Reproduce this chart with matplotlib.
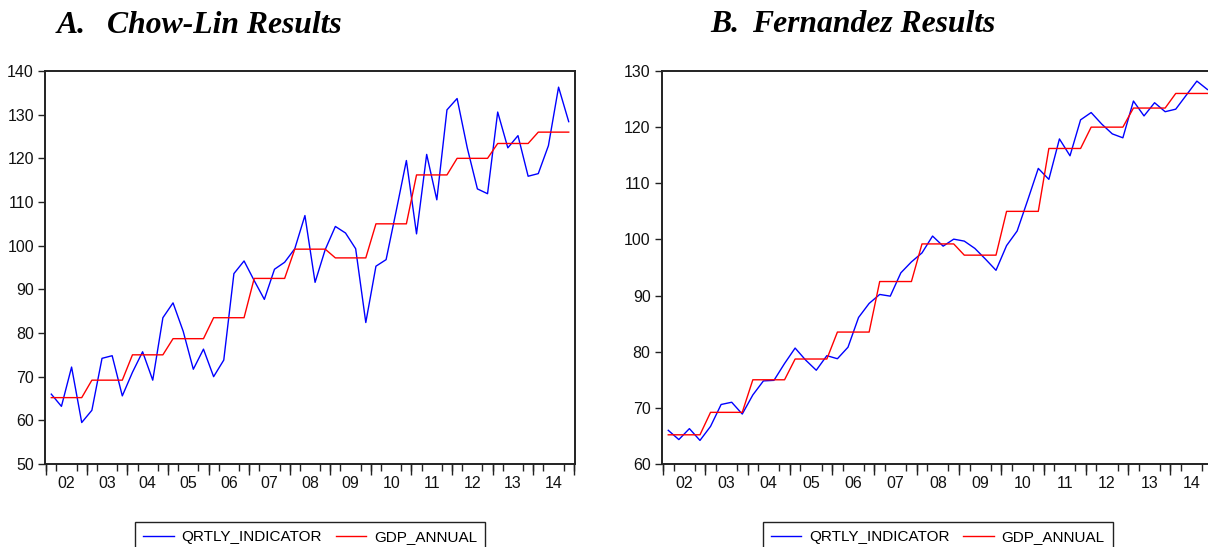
import matplotlib
matplotlib.use("Agg")
import matplotlib.pyplot as plt
import numpy as np

# ---- data ----
years = ["02", "03", "04", "05", "06", "07", "08", "09", "10", "11", "12", "13", "14"]
gdp_annual = [65.2, 69.2, 75.0, 78.7, 83.5, 92.5, 99.2, 97.2, 105.0, 116.2, 120.0, 123.4, 126.0]

chowlin_qrtly = [66.0, 63.2, 72.2, 59.5, 62.3, 74.2, 74.8, 65.6,
                 71.0, 75.7, 69.2, 83.5, 86.9, 80.4, 71.7, 76.3,
                 70.0, 73.8, 93.6, 96.5, 92.0, 87.7, 94.6, 96.2,
                 99.3, 106.9, 91.6, 99.1, 104.4, 102.9, 99.3, 82.4,
                 95.3, 96.8, 108.0, 119.5, 102.7, 120.9, 110.5, 131.1,
                 133.7, 122.4, 113.0, 111.9, 130.6, 122.4, 125.2, 115.9,
                 116.5, 122.9, 136.3, 128.4]

fernandez_qrtly = [66.0, 64.35, 66.3, 64.2, 66.7, 70.6, 71.0, 68.9,
                   72.3, 74.8, 74.9, 77.9, 80.65, 78.5, 76.7, 79.3,
                   78.75, 80.8, 86.1, 88.6, 90.2, 89.9, 94.05, 96.0,
                   97.6, 100.6, 98.8, 100.05, 99.7, 98.4, 96.5, 94.5,
                   98.9, 101.5, 107.0, 112.65, 110.7, 117.9, 114.9, 121.3,
                   122.6, 120.55, 118.8, 118.1, 124.65, 122.0, 124.35, 122.75,
                   123.2, 125.7, 128.2, 126.7]

legend_labels = ["QRTLY_INDICATOR", "GDP_ANNUAL"]

plt.rcParams['font.family'] = ['Liberation Sans', 'DejaVu Sans']

W, H = 1208, 547
fig = plt.figure(figsize=(W / 100, H / 100), dpi=100)

def px_axes(x0, y0, x1, y1):
    return fig.add_axes([x0 / W, 1 - y1 / H, (x1 - x0) / W, (y1 - y0) / H])

def draw_panel(ax, qrtly, ylim, yticks):
    n = len(qrtly)
    q = np.arange(n)
    gdp_q = np.repeat(gdp_annual, 4)[:n]
    l1, = ax.plot(q, qrtly, color='#0000ff', lw=1.0)
    l2, = ax.plot(q, gdp_q, color='#ff0000', lw=1.0)
    ax.set_xlim(-0.62, n - 1 + 0.62)
    ax.set_ylim(*ylim)
    ax.set_yticks(yticks)
    ax.tick_params(axis='y', direction='out', length=5, width=1.0, labelsize=11.5,
                   color='#222222', labelcolor='#111111', pad=3)
    # year labels at year centres
    centres = [4 * k + 1.5 for k in range(len(years))]
    ax.set_xticks(centres)
    ax.set_xticklabels(years)
    ax.tick_params(axis='x', which='major', length=0, labelsize=11.5,
                   labelcolor='#111111', pad=9)
    # quarter ticks
    ax.set_xticks([i + 0.5 for i in range(-1, n)], minor=True)
    ax.tick_params(axis='x', which='minor', direction='out', length=5, width=1.0,
                   color='#222222')
    # year boundary ticks
    sec = ax.secondary_xaxis('bottom')
    sec.set_xticks([4 * k - 0.5 for k in range(len(years) + 1)])
    sec.tick_params(axis='x', direction='out', length=8, width=1.0, color='#222222',
                    labelbottom=False)
    sec.spines['bottom'].set_visible(False)
    for s in ax.spines.values():
        s.set_linewidth(1.4)
        s.set_color('#222222')
    return l1, l2

legend_kw = dict(loc='upper center', ncol=2, fontsize=11,
                 frameon=True, fancybox=False, edgecolor='#222222', framealpha=1,
                 handlelength=2.0, handletextpad=0.5, columnspacing=0.9,
                 borderpad=0.55, borderaxespad=0)

axL = px_axes(45, 71, 575, 464)
h = draw_panel(axL, chowlin_qrtly, (50, 140), list(range(50, 141, 10)))
legL = fig.legend(h, legend_labels, bbox_to_anchor=(310 / W, 1 - 521.5 / H), **legend_kw)
legL.get_frame().set_linewidth(1.0)

axR = px_axes(661.7, 71, 1214, 464)
h = draw_panel(axR, fernandez_qrtly, (60, 130), list(range(60, 131, 10)))
legR = fig.legend(h, legend_labels, bbox_to_anchor=(937.8 / W, 1 - 521.5 / H), **legend_kw)
legR.get_frame().set_linewidth(1.0)

tkw = dict(family=['Liberation Serif', 'DejaVu Serif'], weight='bold', style='italic',
           fontsize=22.8, va='baseline', ha='left', color='black')
fig.text(57 / W, 1 - 33.3 / H, "A.", **tkw)
fig.text(107 / W, 1 - 33.3 / H, "Chow-Lin Results", **tkw)
fig.text(710 / W, 1 - 32.5 / H, "B.", **tkw)
fig.text(751.7 / W, 1 - 32.5 / H, "Fernandez Results", **tkw)

fig.savefig("out.png", dpi=100)
